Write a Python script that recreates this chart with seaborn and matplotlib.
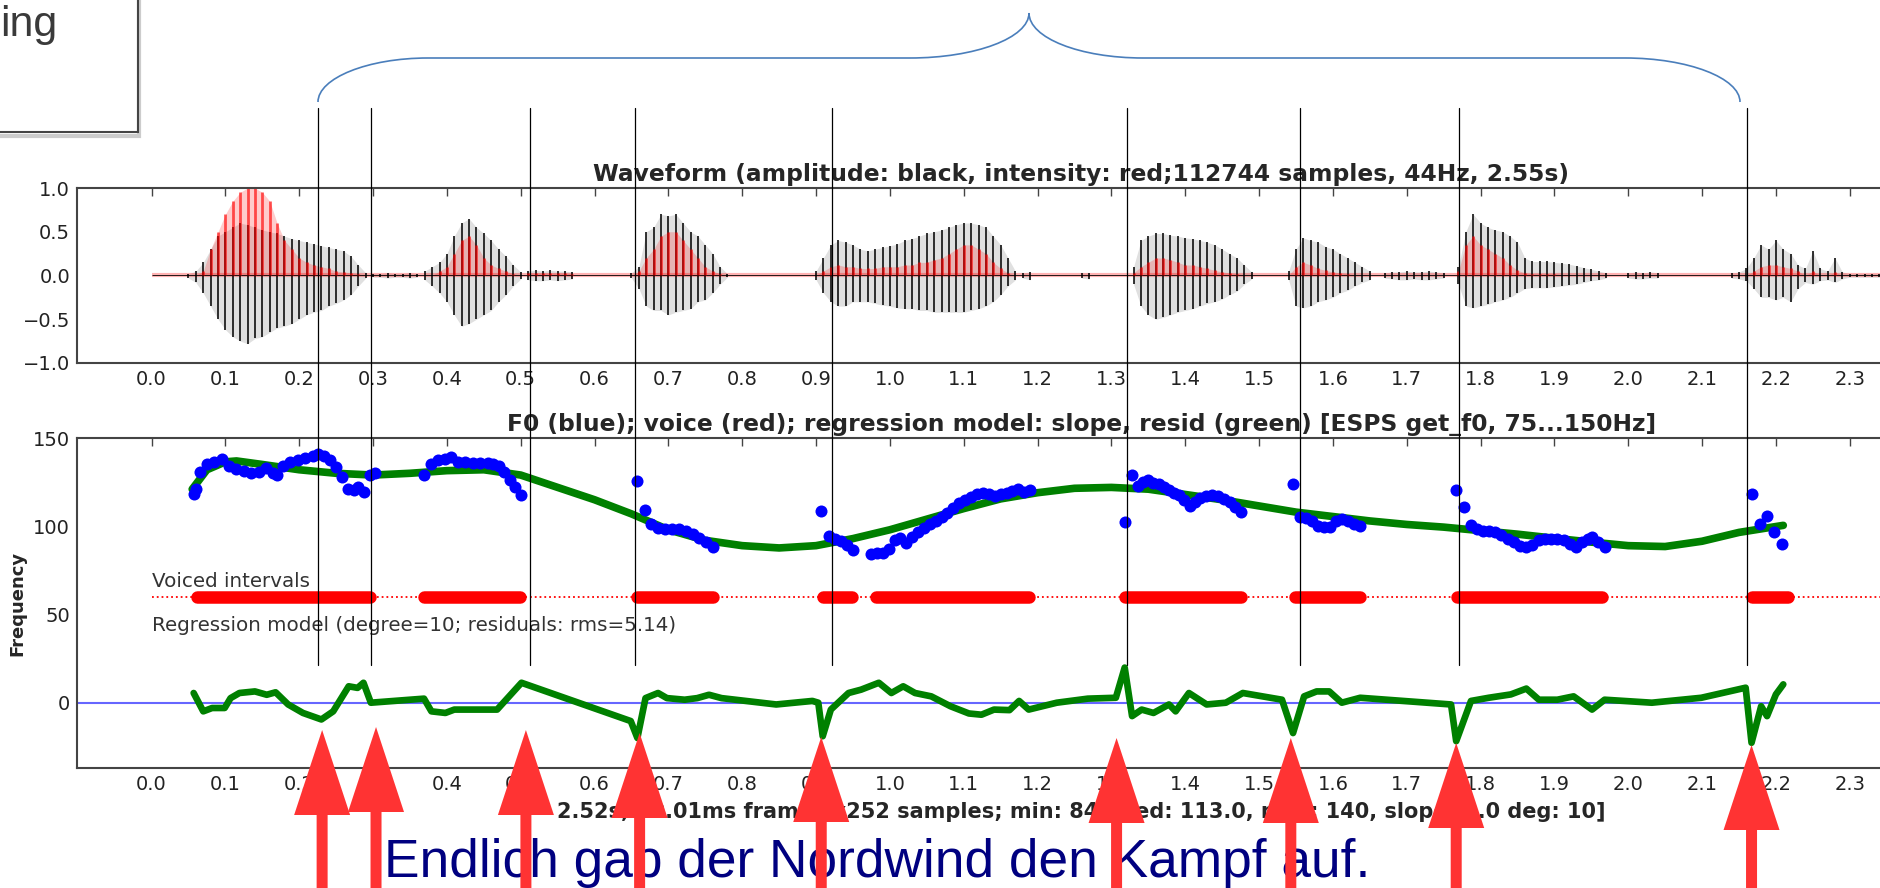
import numpy as np
import matplotlib.pyplot as plt
from matplotlib.path import Path
from matplotlib.patches import PathPatch, Rectangle
import seaborn as sns

# ---- waveform envelope, read per 10 ms (segment start, peaks up / down, intensity)
seg_start = [0.05, 0.30, 0.37, 0.51, 0.65, 0.90, 1.18, 1.26, 1.33, 1.54, 1.67, 1.77, 2.00, 2.14]
seg_hi = [
    [0.02, 0.05, 0.15, 0.30, 0.45, 0.50, 0.55, 0.60, 0.58, 0.55, 0.52, 0.50, 0.48, 0.45, 0.42, 0.40, 0.38, 0.36, 0.34, 0.32, 0.30, 0.28, 0.22, 0.12, 0.03],
    [0.02, 0.02, 0.03, 0.02, 0.02, 0.03, 0.02],
    [0.05, 0.10, 0.15, 0.25, 0.45, 0.60, 0.65, 0.55, 0.48, 0.40, 0.30, 0.22, 0.12, 0.04],
    [0.05, 0.06, 0.05, 0.06, 0.05, 0.05, 0.04],
    [0.03, 0.10, 0.50, 0.55, 0.70, 0.68, 0.70, 0.60, 0.50, 0.45, 0.35, 0.25, 0.10, 0.02],
    [0.05, 0.20, 0.35, 0.40, 0.38, 0.35, 0.30, 0.28, 0.30, 0.32, 0.34, 0.36, 0.40, 0.42, 0.45, 0.48, 0.50, 0.52, 0.55, 0.58, 0.60, 0.60, 0.58, 0.55, 0.45, 0.35, 0.20, 0.05],
    [0.03, 0.04],
    [0.03, 0.03],
    [0.10, 0.40, 0.45, 0.48, 0.48, 0.46, 0.45, 0.43, 0.42, 0.40, 0.38, 0.35, 0.30, 0.25, 0.20, 0.12, 0.04],
    [0.05, 0.30, 0.43, 0.40, 0.38, 0.33, 0.30, 0.25, 0.20, 0.15, 0.10, 0.05],
    [0.03, 0.04, 0.04, 0.05, 0.04, 0.04, 0.05, 0.04, 0.03],
    [0.10, 0.50, 0.70, 0.60, 0.55, 0.52, 0.50, 0.45, 0.38, 0.20, 0.16, 0.16, 0.16, 0.15, 0.14, 0.13, 0.11, 0.09, 0.07, 0.05, 0.03],
    [0.03, 0.04, 0.03, 0.04, 0.03],
    [0.03, 0.04, 0.08, 0.20, 0.35, 0.30, 0.40, 0.30, 0.25, 0.12, 0.08, 0.28, 0.08, 0.05, 0.20, 0.04, 0.02, 0.02, 0.02, 0.02, 0.02, 0.02],
]
seg_lo = [
    [-0.03, -0.08, -0.20, -0.35, -0.50, -0.62, -0.70, -0.75, -0.78, -0.72, -0.70, -0.65, -0.60, -0.58, -0.55, -0.50, -0.45, -0.42, -0.40, -0.35, -0.32, -0.28, -0.22, -0.12, -0.03],
    [-0.02, -0.02, -0.03, -0.02, -0.02, -0.03, -0.02],
    [-0.05, -0.12, -0.20, -0.30, -0.45, -0.58, -0.55, -0.50, -0.45, -0.40, -0.30, -0.22, -0.12, -0.04],
    [-0.05, -0.06, -0.06, -0.05, -0.06, -0.05, -0.04],
    [-0.03, -0.15, -0.35, -0.40, -0.40, -0.45, -0.42, -0.40, -0.38, -0.30, -0.28, -0.20, -0.10, -0.02],
    [-0.05, -0.20, -0.30, -0.35, -0.35, -0.30, -0.30, -0.30, -0.32, -0.34, -0.35, -0.37, -0.38, -0.38, -0.40, -0.40, -0.42, -0.42, -0.42, -0.42, -0.42, -0.40, -0.38, -0.35, -0.30, -0.22, -0.12, -0.05],
    [-0.03, -0.05],
    [-0.03, -0.04],
    [-0.10, -0.35, -0.45, -0.50, -0.48, -0.45, -0.42, -0.40, -0.38, -0.35, -0.32, -0.30, -0.27, -0.22, -0.18, -0.10, -0.04],
    [-0.05, -0.35, -0.37, -0.35, -0.30, -0.28, -0.25, -0.20, -0.17, -0.12, -0.08, -0.05],
    [-0.03, -0.04, -0.05, -0.05, -0.04, -0.05, -0.05, -0.04, -0.03],
    [-0.10, -0.35, -0.37, -0.35, -0.33, -0.30, -0.28, -0.25, -0.20, -0.15, -0.14, -0.14, -0.14, -0.13, -0.12, -0.11, -0.10, -0.08, -0.06, -0.05, -0.03],
    [-0.03, -0.04, -0.04, -0.03, -0.03],
    [-0.03, -0.04, -0.06, -0.15, -0.25, -0.25, -0.28, -0.25, -0.30, -0.15, -0.08, -0.10, -0.06, -0.05, -0.08, -0.04, -0.02, -0.02, -0.02, -0.02, -0.02, -0.02],
]
seg_red = [
    [0, 0, 0.05, 0.30, 0.50, 0.70, 0.85, 0.95, 1.00, 1.00, 0.95, 0.85, 0.60, 0.40, 0.30, 0.20, 0.15, 0.12, 0.10, 0.08, 0.05, 0.04, 0.03, 0.02, 0],
    [0, 0, 0, 0, 0, 0, 0],
    [0, 0, 0.05, 0.10, 0.25, 0.40, 0.45, 0.35, 0.20, 0.12, 0.08, 0.05, 0.02, 0],
    [0.03, 0.03, 0.03, 0.03, 0.03, 0.03, 0.02],
    [0, 0.05, 0.20, 0.30, 0.45, 0.50, 0.50, 0.40, 0.30, 0.20, 0.10, 0.05, 0.02, 0],
    [0, 0.05, 0.10, 0.12, 0.10, 0.10, 0.08, 0.08, 0.08, 0.10, 0.10, 0.10, 0.12, 0.12, 0.15, 0.15, 0.18, 0.20, 0.25, 0.30, 0.35, 0.35, 0.30, 0.25, 0.15, 0.08, 0.03, 0],
    [0, 0],
    [0, 0],
    [0.03, 0.10, 0.15, 0.20, 0.20, 0.18, 0.15, 0.12, 0.12, 0.10, 0.08, 0.06, 0.04, 0.03, 0.02, 0.01, 0],
    [0, 0.10, 0.15, 0.12, 0.08, 0.06, 0.04, 0.03, 0.02, 0.01, 0, 0],
    [0, 0, 0, 0, 0, 0, 0, 0, 0],
    [0.05, 0.35, 0.45, 0.35, 0.30, 0.25, 0.20, 0.12, 0.06, 0.03, 0.02, 0.02, 0.02, 0.02, 0.01, 0.01, 0, 0, 0, 0, 0],
    [0, 0, 0, 0, 0],
    [0, 0, 0, 0.05, 0.10, 0.12, 0.12, 0.10, 0.08, 0.05, 0, 0.05, 0, 0, 0.04, 0, 0, 0, 0, 0, 0, 0],
]

# ---- F0 track (s, Hz)
f0_t = [0.057, 0.060, 0.065, 0.075, 0.085, 0.095, 0.105, 0.115, 0.125, 0.135, 0.145, 0.155, 0.165, 0.170,
        0.178, 0.188, 0.198, 0.208, 0.218, 0.226, 0.234, 0.242, 0.250, 0.258, 0.266, 0.274, 0.280, 0.288,
        0.296, 0.302,
        0.369, 0.378, 0.388, 0.398, 0.405, 0.415, 0.425, 0.435, 0.445, 0.455, 0.463, 0.470, 0.478, 0.486,
        0.492, 0.500,
        0.658, 0.668, 0.677, 0.686, 0.695, 0.705, 0.715, 0.724, 0.733, 0.742, 0.751, 0.760,
        0.907, 0.918, 0.926, 0.934, 0.942, 0.950,
        0.975, 0.983, 0.991, 0.999, 1.007, 1.014, 1.022, 1.030, 1.038, 1.046, 1.054, 1.062, 1.070, 1.078,
        1.086, 1.094, 1.102, 1.110, 1.118, 1.126, 1.134, 1.142, 1.150, 1.158, 1.166, 1.174, 1.182, 1.190,
        1.318, 1.328, 1.336, 1.343, 1.350, 1.357, 1.364, 1.371, 1.378, 1.385, 1.392, 1.399, 1.406, 1.413,
        1.420, 1.428, 1.436, 1.444, 1.452, 1.460, 1.468, 1.475,
        1.546, 1.556, 1.564, 1.572, 1.580, 1.588, 1.596, 1.604, 1.612, 1.620, 1.628, 1.637,
        1.767, 1.777, 1.787, 1.795, 1.803, 1.811, 1.820, 1.828, 1.837, 1.845, 1.854, 1.862, 1.870, 1.879,
        1.887, 1.896, 1.904, 1.913, 1.921, 1.929, 1.937, 1.945, 1.951, 1.959, 1.968,
        2.167, 2.178, 2.188, 2.198, 2.208]
f0_v = [118, 121, 131, 135, 136.5, 138, 134, 132.5, 131.5, 130, 131, 133, 130, 129,
        134, 136.5, 137.5, 138.5, 140, 141, 140, 137.5, 133.5, 128, 121, 120.5, 122, 119.5,
        129, 130,
        129, 135.5, 137.5, 138, 139, 136.5, 136.5, 136, 136, 136, 135.5, 134, 130.5, 126,
        122, 117.5,
        125.5, 109, 101.5, 99, 98.5, 98.5, 98.5, 97.5, 95.5, 93.5, 91, 88,
        108.5, 94.5, 93, 91.5, 89.5, 86.5,
        84.5, 85, 85, 87, 92, 93.5, 90.5, 94, 96.5, 99, 101, 103, 105, 107.5,
        110.5, 113, 115, 116.5, 118, 119, 118, 117, 118, 119, 120, 121, 119.5, 120.5,
        102.5, 129, 123, 125, 126, 124.5, 124, 122, 120.5, 119, 117.5, 115, 111.5, 114,
        116, 117, 117.5, 117, 115.5, 113.5, 111, 108,
        124, 105, 104.5, 103, 100, 99.5, 99.5, 103, 104, 103, 101.5, 100,
        120.5, 111, 100.5, 98.5, 97.5, 97.5, 97, 95, 93, 91, 89, 88, 89.5, 92,
        93, 93, 92.5, 92, 90, 88.5, 91, 93, 94, 91, 88.5,
        118.5, 101, 106, 97, 90]

# regression model (degree 10)
reg_t = [0.055, 0.075, 0.10, 0.115, 0.15, 0.20, 0.25, 0.30, 0.35, 0.40, 0.45, 0.50, 0.55, 0.60, 0.65,
         0.70, 0.75, 0.80, 0.85, 0.90, 0.95, 1.00, 1.05, 1.10, 1.15, 1.20, 1.25, 1.30, 1.35, 1.40,
         1.45, 1.50, 1.55, 1.60, 1.65, 1.70, 1.75, 1.80, 1.85, 1.90, 1.95, 2.00, 2.05, 2.10, 2.15, 2.21]
reg_v = [121, 132, 136.5, 137, 135, 132, 130, 129, 130, 131.5, 132, 129, 122, 115, 107,
         98, 92, 89, 87.7, 89, 93, 98, 104, 110, 115.5, 119, 121.5, 122, 121, 118,
         115, 111.5, 108, 105.5, 103, 101, 99.5, 97.5, 95.5, 93.2, 91, 89, 88.5, 91.5, 96.5, 100.5]

# residuals
res_t = [0.057, 0.070, 0.082, 0.099, 0.107, 0.119, 0.140, 0.156, 0.168, 0.185, 0.205, 0.230, 0.246, 0.267,
         0.279, 0.287, 0.297, 0.369, 0.379, 0.398, 0.410, 0.468, 0.501, 0.649, 0.658, 0.669, 0.686, 0.698,
         0.722, 0.739, 0.755, 0.772, 0.846, 0.895, 0.903, 0.909, 0.920, 0.944, 0.961, 0.985, 1.002, 1.018,
         1.034, 1.056, 1.082, 1.107, 1.124, 1.141, 1.162, 1.175, 1.188, 1.226, 1.268, 1.306, 1.318, 1.328,
         1.341, 1.357, 1.378, 1.387, 1.405, 1.429, 1.455, 1.478, 1.531, 1.546, 1.561, 1.578, 1.595, 1.612,
         1.637, 1.760, 1.767, 1.787, 1.811, 1.841, 1.862, 1.879, 1.904, 1.926, 1.951, 1.968, 2.032, 2.099,
         2.159, 2.167, 2.180, 2.188, 2.200, 2.210]
res_v = [5.5, -4.9, -3, -3, 2.6, 5.5, 6.4, 4.5, 5.9, -1, -5.8, -9.5, -4.9, 9.3,
         8.4, 11.3, 0, 2.3, -4.9, -5.8, -3.9, -3.9, 11.3, -10.4, -20, 2.6, 5.5, 2.6,
         1.7, 2.6, 4.5, 2.6, -1, 1, 0, -19, -3.9, 5.5, 7.4, 11.3, 5.5, 9.3,
         5.5, 3.6, -2, -6.1, -6.8, -3.9, -4.2, 1, -3.9, 0, 2.3, 2.8, 19.9, -7.6,
         -3.9, -5.8, -1, -4.9, 5.5, -1, 0, 5.5, 1.7, -17.2, 3.6, 6.4, 6.4, 0,
         2.8, -1, -21.8, 1, 2.8, 4.7, 8, 1.7, 1.7, 3.6, -3.9, 1.7, 0, 2.8,
         8.5, -22.7, -2, -7.6, 4.7, 10.4]

# voiced intervals (first / last voiced frame)
voiced_start = [0.061, 0.369, 0.658, 0.909, 0.981, 1.318, 1.548, 1.768, 2.168]
voiced_end = [0.296, 0.499, 0.760, 0.948, 1.188, 1.476, 1.637, 1.964, 2.216]

# slide annotations: segment boundaries (lines) and arrow positions, in seconds
boundary_t = [0.225, 0.297, 0.512, 0.655, 0.922, 1.321, 1.556, 1.771, 2.161]
arrow_t = [0.231, 0.304, 0.507, 0.661, 0.907, 1.307, 1.543, 1.767, 2.167]
arrow_tip = [730, 727, 730, 733, 737, 738, 738, 743, 745]

tick_vals = [0.0, 0.1, 0.2, 0.3, 0.4, 0.5, 0.6, 0.7, 0.8, 0.9, 1.0, 1.1,
             1.2, 1.3, 1.4, 1.5, 1.6, 1.7, 1.8, 1.9, 2.0, 2.1, 2.2, 2.3]

wave_title = 'Waveform (amplitude: black, intensity: red;112744 samples, 44Hz, 2.55s)'
f0_title = 'F0 (blue); voice (red); regression model: slope, resid (green) [ESPS get_f0, 75...150Hz]'
f0_xlabel = '2.52s, 10.01ms frames x252 samples; min: 84, med: 113.0, max: 140, slope: 0.0 deg: 10]'
sentence = 'Endlich gab der Nordwind den Kampf auf.'

sns.set_style('white')
plt.rcParams['font.family'] = ['DejaVu Sans']

W, H = 1881, 888
fig = plt.figure(figsize=(W / 100, H / 100), dpi=100)

# the chart is wider than the slide, so the right part is cut off
x0, x1 = 77, 2086
ax_w = fig.add_axes([x0 / W, 1 - 363 / H, (x1 - x0) / W, (363 - 188) / H])
ax_f = fig.add_axes([x0 / W, 1 - 768 / H, (x1 - x0) / W, (768 - 438) / H])

# waveform, one segment at a time so the shading does not bridge the pauses
ax_w.hlines(0, 0, 2.6, color='red', lw=3, alpha=0.3)
ax_w.hlines(0, 0, 2.6, color='black', lw=0.6)
for s, hi, lo, rd in zip(seg_start, seg_hi, seg_lo, seg_red):
    t = [round(s + 0.01 * i, 3) for i in range(len(hi))]
    ax_w.fill_between(t, lo, hi, color='black', alpha=0.12, lw=0)
    ax_w.vlines(t, lo, hi, color='black', lw=1.4, alpha=0.8)
    ax_w.fill_between(t, 0, rd, color='red', alpha=0.2, lw=0)
    ax_w.vlines(t, 0, rd, color='red', lw=2, alpha=0.65)
ax_w.set_ylim(-1, 1)
ax_w.set_yticks([-1, -0.5, 0, 0.5, 1])
ax_w.set_yticklabels(['\u22121.0', '\u22120.5', '0.0', '0.5', '1.0'])
ax_w.set_title(wave_title, fontsize=16.8, fontweight='bold', pad=5)

# F0 panel
ax_f.axhline(0, color='blue', lw=1.5, alpha=0.6)
ax_f.hlines(60, 0, 2.6, colors='red', linestyles=':', lw=1.3)
lc = ax_f.hlines([60] * len(voiced_start), voiced_start, voiced_end, colors='red', lw=9)
lc.set_capstyle('round')
sns.lineplot(x=reg_t, y=reg_v, color='green', lw=5.5, ax=ax_f)
sns.lineplot(x=res_t, y=res_v, color='green', lw=4.8, ax=ax_f, sort=False, estimator=None)
sns.scatterplot(x=f0_t, y=f0_v, color='blue', s=75, linewidth=0, ax=ax_f, zorder=4)
ax_f.text(0.0, 65.3, 'Voiced intervals', fontsize=14.3, color='#333333')
ax_f.text(0.0, 40.5, 'Regression model (degree=10; residuals: rms=5.14)', fontsize=14.3, color='#333333')
ax_f.set_ylim(-37, 150)
ax_f.set_yticks([0, 50, 100, 150])
ax_f.set_title(f0_title, fontsize=16.8, fontweight='bold', pad=5)
ax_f.set_xlabel(f0_xlabel, fontsize=15, fontweight='bold', labelpad=6)
ax_f.set_ylabel('Frequency', fontsize=13, fontweight='bold')
ax_f.yaxis.set_label_coords(-0.025, 0.5)

for ax in (ax_w, ax_f):
    ax.set_xlim(-0.101, 2.62)
    ax.set_xticks(tick_vals)
    ax.set_xticklabels(['%.1f' % v for v in tick_vals])
    ax.tick_params(direction='in', length=6, width=1, top=True, right=True,
                   labelsize=14, pad=5, color='#444444', labelcolor='#222222')
    for sp in ax.spines.values():
        sp.set_color('#444444')
        sp.set_linewidth(1.5)

# slide overlay in pixel coordinates
ov = fig.add_axes([0, 0, 1, 1], zorder=10)
ov.set_xlim(0, W)
ov.set_ylim(H, 0)
ov.axis('off')

def to_px(t):
    return ax_f.transData.transform((t, 0))[0]

for t in boundary_t:
    x = to_px(t)
    ov.plot([x, x], [108, 665], color='black', lw=0.9)

ov.text(384, 877, sentence, fontsize=38.3, family='Liberation Sans', color='#000080', zorder=1)

for t, tip in zip(arrow_t, arrow_tip):
    ov.arrow(to_px(t), H + 5, 0, tip - (H + 5), width=11, head_width=56, head_length=85,
             length_includes_head=True, color='#ff3333', lw=0, zorder=3)

# curly brace over the sentence
verts = [(318, 102), (318, 78), (368, 58), (428, 58),
         (910, 58),
         (975, 58), (1029, 38), (1029, 13),
         (1029, 38), (1080, 58), (1143, 58),
         (1625, 58),
         (1688, 58), (1740, 78), (1740, 102)]
codes = [Path.MOVETO, Path.CURVE4, Path.CURVE4, Path.CURVE4,
         Path.LINETO,
         Path.CURVE4, Path.CURVE4, Path.CURVE4,
         Path.CURVE4, Path.CURVE4, Path.CURVE4,
         Path.LINETO,
         Path.CURVE4, Path.CURVE4, Path.CURVE4]
ov.add_patch(PathPatch(Path(verts, codes), fill=False, ec='#4a7ebb', lw=1.2))

# box from the previous slide element
ov.add_patch(Rectangle((-16, -16), 155, 152, fill=False, ec='#cccccc', lw=3))
ov.add_patch(Rectangle((-20, -20), 157.5, 152, fill=False, ec='#444444', lw=1.5))
ov.text(57, 36, 'ing', fontsize=31, family='Liberation Sans', color='#3a3a3a', ha='right')

fig.savefig('out.png', dpi=100)
